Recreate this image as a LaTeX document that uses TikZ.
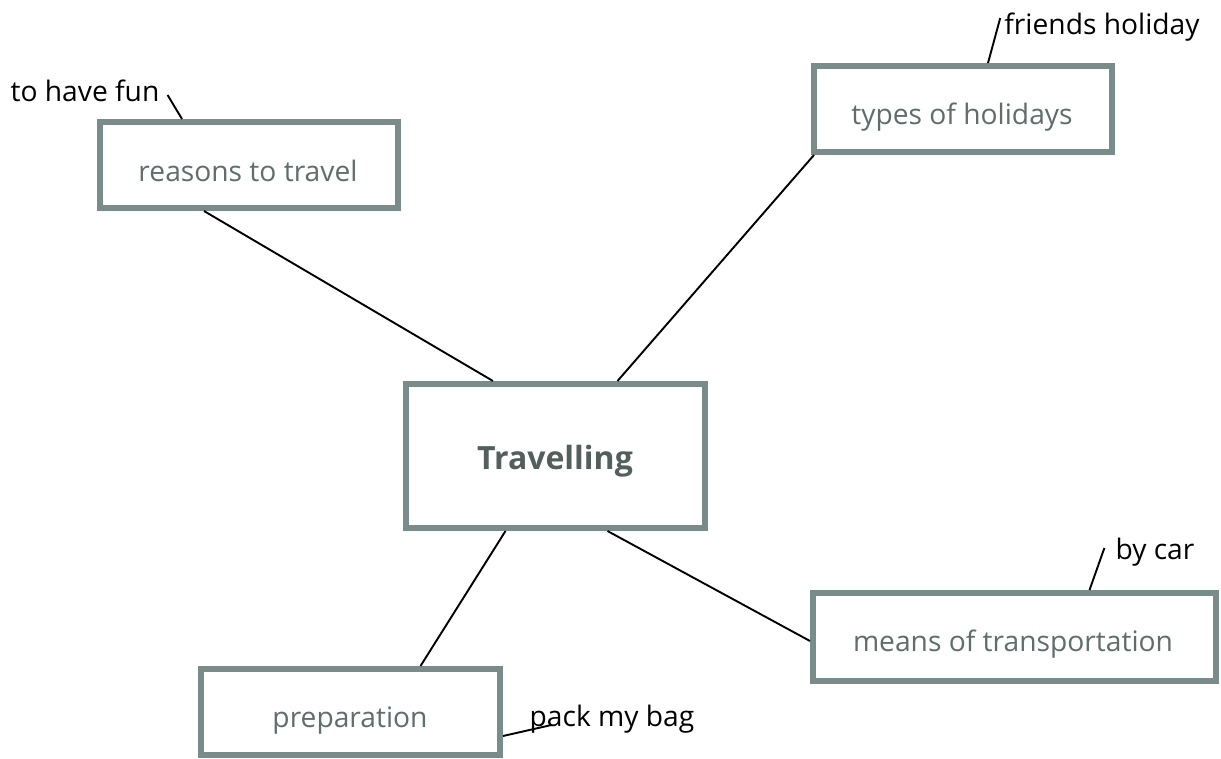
\documentclass[tikz,border=0pt]{standalone}
\usepackage{fontspec}
\setmainfont{Open Sans}
\definecolor{boxline}{HTML}{7A8C89}
\definecolor{boxtext}{HTML}{5F6D6B}
\definecolor{maintext}{HTML}{535F5D}
\begin{document}
\begin{tikzpicture}[x=1pt,y=-1pt,
  topic/.style={draw=boxline,line width=6pt,rectangle,inner sep=0pt},
  topictext/.style={text=boxtext,font=\fontsize{28.2}{33}\selectfont,inner sep=0pt},
  leaf/.style={inner sep=0pt,text=black,font=\fontsize{28.2}{33}\selectfont,text height=20pt,text depth=6pt},
  link/.style={line width=1.9pt,black}]
\useasboundingbox[fill=white] (0,0) rectangle (1221,758);
% topic boxes
\node[topic,minimum width=298pt,minimum height=86pt] (reasons) at (249,165) {};
\node[topictext] (reasonsT) at (248,171) {reasons to travel};
\node[topic,minimum width=298pt,minimum height=86pt] (types) at (963,109) {};
\node[topictext] (typesT) at (962,117) {types of holidays};
\node[topic,minimum width=299pt,minimum height=144pt] (trav) at (555.5,456) {};
\node[text=maintext,font=\bfseries\fontsize{32}{38}\selectfont,inner sep=0pt] (travT) at (555,461) {Travelling};
\node[topic,minimum width=403pt,minimum height=88pt] (means) at (1014.5,637) {};
\node[topictext] (meansT) at (1013,644) {means of transportation};
\node[topic,minimum width=299pt,minimum height=86pt] (prep) at (350.5,712) {};
\node[topictext] (prepT) at (350,721) {preparation};
% leaf labels
\node[leaf] (fun) at (85,94) {to have fun};
\node[leaf] (friends) at (1102,27) {friends holiday};
\node[leaf] (car) at (1155,552) {by car};
\node[leaf] (bag) at (612,719) {pack my bag};
% connectors
\draw[link] ([xshift=90pt]trav.north west) -- ([xshift=-45pt]reasons.south);
\draw[link] ([xshift=62pt]trav.north) -- ([xshift=3pt]types.south west);
\draw[link] ([xshift=-50pt]trav.south) -- ([xshift=70pt]prep.north);
\draw[link] ([xshift=52pt]trav.south) -- ([yshift=-4pt]means.west);
\draw[link] ([xshift=8pt,yshift=-1pt]fun.east) -- ([xshift=-67pt]reasons.north);
\draw[link] ([xshift=-4pt,yshift=9pt]friends.west) -- ([xshift=25pt]types.north);
\draw[link] ([xshift=-11pt,yshift=4pt]car.west) -- ([xshift=75pt]means.north);
\draw[link] ([yshift=-24pt]prep.east) -- ([xshift=22pt,yshift=-6pt]bag.west);
\end{tikzpicture}
\end{document}
